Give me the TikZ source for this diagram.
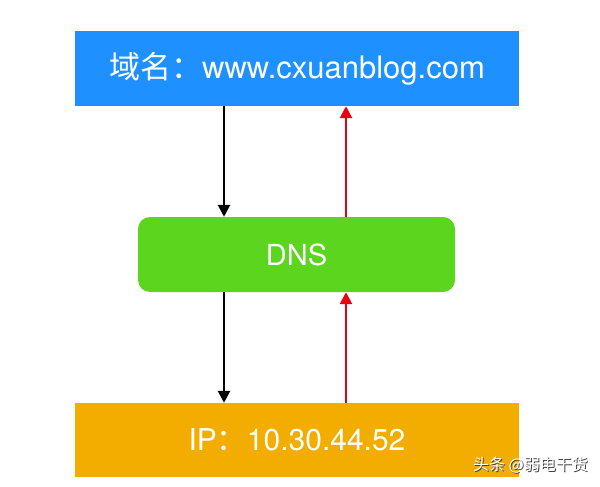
\documentclass[tikz,border=0pt]{standalone}
\usepackage{fontspec}
\setmainfont{TeX Gyre Heros}
\newfontfamily\cjk{Noto Sans CJK SC}
\usetikzlibrary{arrows.meta}
\definecolor{topblue}{RGB}{30,144,255}
\definecolor{dnsgreen}{RGB}{92,213,30}
\definecolor{iporange}{RGB}{242,173,0}
\definecolor{arrred}{RGB}{230,0,18}
\tikzset{
  box/.style={rectangle, draw=none, minimum width=444pt, minimum height=75pt, inner sep=0pt, text=white, font=\fontsize{31}{36}\selectfont},
  dnsbox/.style={box, rounded corners=12pt, minimum width=317pt, fill=dnsgreen, font=\fontsize{29}{34}\selectfont},
  downarrow/.style={line width=2.6pt, black, -{Triangle[width=12pt,length=12pt]}},
  uparrow/.style={line width=2.6pt, arrred, -{Triangle[width=12pt,length=12pt]}},
  wm/.style={font=\cjk\fontsize{16}{18}\selectfont, inner sep=0pt}
}
\begin{document}
\begin{tikzpicture}[x=1pt,y=-1pt]
\useasboundingbox (0,0) rectangle (600,487);
\fill[white] (0,0) rectangle (600,487);
\node[box, fill=topblue] (top) at (297,68.5) {{\cjk 域名：}www.cxuanblog.com};
\node[dnsbox] (dns) at (296.5,254.5) {DNS};
\node[box, fill=iporange, minimum height=74pt, font=\fontsize{30}{36}\selectfont] (ip) at (297,440) {IP{\cjk ：}10.30.44.52};
\coordinate (bx) at (224,0);
\coordinate (rx) at (346,0);
\draw[downarrow] (top.south -| bx) -- (dns.north -| bx);
\draw[uparrow] (dns.north -| rx) -- (top.south -| rx);
\draw[downarrow] (dns.south -| bx) -- (ip.north -| bx);
\draw[uparrow] (ip.north -| rx) -- (dns.south -| rx);
\node[wm, text=black!75] (wmshadow) at (531.5,465.8) {头条 @弱电干货};
\node[wm, text=white] (wmark) at (530.5,464.8) {头条 @弱电干货};
\end{tikzpicture}
\end{document}
